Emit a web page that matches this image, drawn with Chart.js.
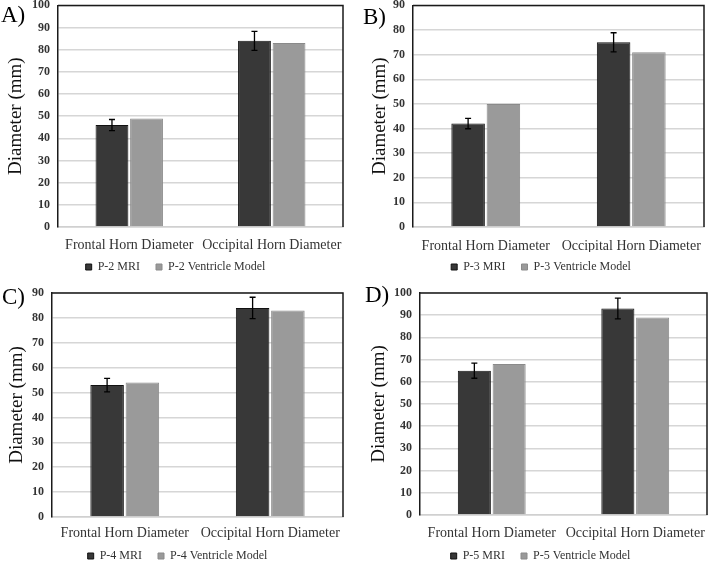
<!DOCTYPE html>
<html>
<head>
<meta charset="utf-8">
<script src="https://cdn.jsdelivr.net/npm/chart.js@4.4.1/dist/chart.umd.min.js"></script>
<style>
  html, body { margin: 0; padding: 0; background: #fff; }
  #wrap { position: relative; width: 708px; height: 561px; overflow: hidden; }
  .panel { position: absolute; width: 354px; height: 280px; }
  .panel canvas { position: absolute; left: 0; top: 0; }
  .letter { position: absolute; font-family: "Liberation Serif", "Times New Roman", serif; font-size: 23px; color: #000; line-height: 1; }
</style>
</head>
<body>
<div id="wrap">
  <div class="panel" style="left:0;top:0"><canvas id="cA" width="354" height="280"></canvas><div class="letter" style="left:1px;top:3px">A)</div></div>
  <div class="panel" style="left:354px;top:0"><canvas id="cB" width="354" height="280"></canvas><div class="letter" style="left:9px;top:5px">B)</div></div>
  <div class="panel" style="left:0;top:280px"><canvas id="cC" width="354" height="281"></canvas><div class="letter" style="left:2px;top:5px">C)</div></div>
  <div class="panel" style="left:354px;top:280px"><canvas id="cD" width="354" height="281"></canvas><div class="letter" style="left:11px;top:3px">D)</div></div>
</div>
<script>
// ---- data ----
const categories = ['Frontal Horn Diameter', 'Occipital Horn Diameter'];
const yTitle = 'Diameter (mm)';

const mriA = [46, 84];   const mriErrA = [2.5, 4.3]; const modelA = [49, 83];
const mriB = [42, 75];   const mriErrB = [2.1, 3.9]; const modelB = [50, 71];
const mriC = [53, 84];   const mriErrC = [2.7, 4.3]; const modelC = [54, 83];
const mriD = [65, 93];   const mriErrD = [3.4, 4.7]; const modelD = [68, 89];

const yMaxA = 100, yMaxB = 90, yMaxC = 90, yMaxD = 100;
const labelsA = ['P-2 MRI', 'P-2 Ventricle Model'];
const labelsB = ['P-3 MRI', 'P-3 Ventricle Model'];
const labelsC = ['P-4 MRI', 'P-4 Ventricle Model'];
const labelsD = ['P-5 MRI', 'P-5 Ventricle Model'];

// ---- plugins ----
const errorBars = {
  id: 'errorBars',
  afterDatasetsDraw(chart) {
    const ctx = chart.ctx;
    const y = chart.scales.y;
    chart.data.datasets.forEach((ds, i) => {
      if (!ds.errors) return;
      const meta = chart.getDatasetMeta(i);
      meta.data.forEach((bar, j) => {
        const v = ds.data[j], e = ds.errors[j];
        const yTop = y.getPixelForValue(v + e);
        const yBot = y.getPixelForValue(v - e);
        const x = bar.x;
        ctx.save();
        ctx.strokeStyle = '#000';
        ctx.lineWidth = 1.3;
        ctx.beginPath();
        ctx.moveTo(x, yTop); ctx.lineTo(x, yBot);
        ctx.moveTo(x - 3, yTop); ctx.lineTo(x + 3, yTop);
        ctx.moveTo(x - 3, yBot); ctx.lineTo(x + 3, yBot);
        ctx.stroke();
        ctx.restore();
      });
    });
  }
};
const frame = {
  id: 'frame',
  afterDraw(chart) {
    const a = chart.chartArea, ctx = chart.ctx;
    ctx.save();
    ctx.strokeStyle = '#1a1a1a';
    ctx.lineWidth = 1.5;
    ctx.beginPath();
    ctx.moveTo(a.left, a.top); ctx.lineTo(a.right, a.top); ctx.lineTo(a.right, a.bottom);
    ctx.stroke();
    ctx.restore();
  }
};
// places the legend row at a given vertical centre / horizontal offset
const legendShift = {
  id: 'legendShift',
  afterLayout(chart, args, opts) {
    const lg = chart.legend;
    if (!lg || opts.center == null) return;
    const p = lg.options.labels.padding;
    lg.top = opts.center - p - 6;
    lg.bottom = chart.height;
    lg.height = lg.bottom - lg.top;
    const dx = opts.dx || 0;
    lg.left += dx; lg.right += dx;
  }
};

const SERIF = '"Liberation Serif", "Times New Roman", serif';

function makeChart(id, H, mri, err, model, yMax, labels, L) {
  return new Chart(document.getElementById(id), {
    type: 'bar',
    data: {
      labels: categories,
      datasets: [
        { label: labels[0], data: mri, errors: err, backgroundColor: '#383838', borderColor: '#111111', borderWidth: 1,
          categoryPercentage: 0.485, barPercentage: 0.95 },
        { label: labels[1], data: model, backgroundColor: '#9a9a9a', borderColor: '#8a8a8a', borderWidth: 1,
          categoryPercentage: 0.485, barPercentage: 0.95 }
      ]
    },
    options: {
      responsive: false,
      animation: false,
      devicePixelRatio: 1,
      layout: { padding: { left: 0, top: L.top, right: L.right, bottom: 0 } },
      plugins: {
        tooltip: { enabled: false },
        legendShift: { center: L.legY, dx: L.legDx },
        legend: {
          position: 'bottom',
          maxHeight: H - L.bottom - L.xh,
          labels: { boxWidth: 6, boxHeight: 6, padding: 16, color: '#333', font: { family: SERIF, size: 12 } }
        }
      },
      scales: {
        x: {
          grid: { display: false, drawTicks: false },
          border: { color: '#d0d0d0', width: 1.5 },
          ticks: { color: '#333', padding: L.xpad, font: { family: SERIF, size: 14, lineHeight: 1 }, maxRotation: 0, autoSkip: false },
          afterFit(s) { s.height = L.xh; s.paddingLeft = 0; s.paddingRight = 0; }
        },
        y: {
          min: 0, max: yMax,
          ticks: { stepSize: 10, color: '#333', padding: 0, font: { family: SERIF, size: 12, weight: 'bold', lineHeight: 0.9 } },
          grid: { color: '#d6d6d6', lineWidth: 1.5, drawTicks: true, tickLength: 8, tickColor: 'rgba(0,0,0,0)' },
          border: { color: '#1a1a1a', width: 1.5 },
          title: { display: true, text: yTitle, color: '#111', padding: { top: L.tpad, bottom: 0 }, font: { family: SERIF, size: 19 } },
          afterFit(s) { s.width = L.left; }
        }
      }
    },
    plugins: [errorBars, frame, legendShift]
  });
}

makeChart('cA', 280, mriA, mriErrA, modelA, yMaxA, labelsA, { left: 58, top: 5, right: 11, bottom: 227, xh: 25, xpad: 11, legY: 267, legDx: 4, tpad: 5 });
makeChart('cB', 280, mriB, mriErrB, modelB, yMaxB, labelsB, { left: 59, top: 5, right: 4, bottom: 227, xh: 25, xpad: 12, legY: 267, legDx: 12, tpad: 15 });
makeChart('cC', 281, mriC, mriErrC, modelC, yMaxC, labelsC, { left: 52, top: 13, right: 11, bottom: 237, xh: 25, xpad: 9, legY: 276, legDx: 6, tpad: 6 });
makeChart('cD', 281, mriD, mriErrD, modelD, yMaxD, labelsD, { left: 66, top: 13, right: 1, bottom: 235, xh: 25, xpad: 11, legY: 276, legDx: 10, tpad: 14 });
</script>
</body>
</html>
